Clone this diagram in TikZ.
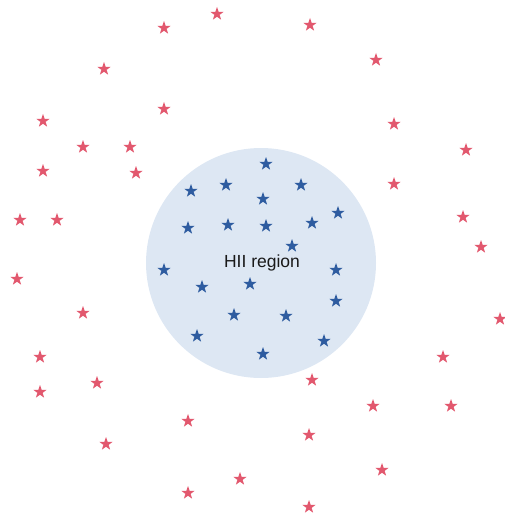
\documentclass[tikz,border=0pt]{standalone}
\usepackage{fontspec}
\setmainfont{Liberation Sans}
\usetikzlibrary{shapes.geometric}
\definecolor{starred}{RGB}{226,88,110}
\definecolor{starblue}{RGB}{46,92,160}
\definecolor{regionfill}{RGB}{221,231,243}
\tikzset{
  basestar/.style={star, star points=5, star point ratio=2.55, minimum size=14pt, inner sep=0pt, draw=none, shape border rotate=0},
  redstar/.style={basestar, fill=starred},
  bluestar/.style={basestar, fill=starblue},
  regionbox/.style={circle, fill=regionfill, draw=none, minimum size=230pt, inner sep=0pt},
  labeltext/.style={font=\fontsize{17.5pt}{20pt}\selectfont, text=black!90, inner sep=0pt, anchor=base}
}
\begin{document}
\begin{tikzpicture}[x=1pt,y=-1pt]
\useasboundingbox (0,0) rectangle (504,516);
\node[regionbox] (region) at (261,263) {};
\node[labeltext] (label) at (262,267.5) {HII region};
\foreach \p [count=\i] in {(217,14),(164,28),(104,69),(164,109),(43,121),(83,147),(130,147),(43,171),(136,173),(20,220),(57,220),
 (310,25),(376,60),(394,124),(466,150),(394,184),(463,217),(481,247),
 (17,279),(83,313),(40,357),(40,392),(97,383),(188,421),(106,444),(240,479),(188,493),
 (500,319),(443,357),(312,380),(373,406),(451,406),(309,435),(382,470),(309,507)}
  \node[redstar] (r\i) at \p {};
\foreach \p [count=\i] in {(191,191),(226,185),(188,228),(228,225),
 (266,164),(301,185),(263,199),(266,226),(312,223),(338,213),(292,246),
 (164,270),(202,287),(250,284),(234,315),(197,336),
 (336,270),(336,301),(286,316),(324,341),(263,354)}
  \node[bluestar] (b\i) at \p {};
\end{tikzpicture}
\end{document}
